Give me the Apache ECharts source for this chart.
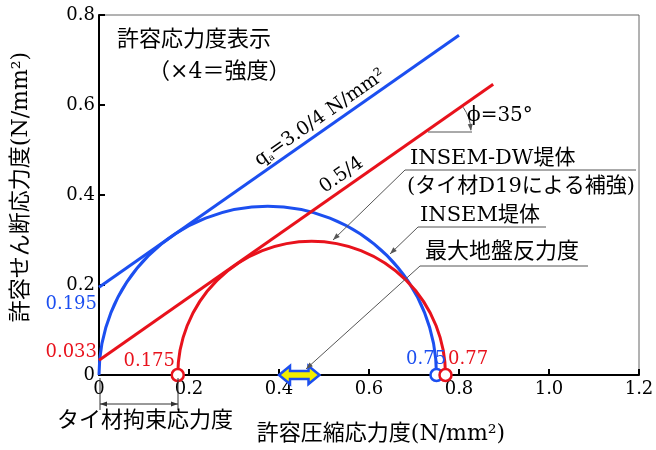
<!DOCTYPE html>
<html><head><meta charset="utf-8">
<script src="https://cdn.jsdelivr.net/npm/echarts@6/dist/echarts.min.js"></script>
<style>html,body{margin:0;padding:0;background:#fff}#c{width:656px;height:450px}</style>
</head><body><div id="c"></div>
<script>
// ---- data ----
const xTicks = [0, 0.2, 0.4, 0.6, 0.8, 1.0, 1.2];
const yTicks = [0, 0.2, 0.4, 0.6, 0.8];
const blueCircle = [0, 0.75, 0];      // sigma3, sigma1 (INSEM-DW)
const redCircle = [0.175, 0.77, 0];   // sigma3, sigma1 (INSEM)
const blueLine = [[0, 0.195], [0.80, 0.755]];
const redLine = [[0, 0.033], [0.876, 0.646]];
const blueMarks = [[0.75, 0]];
const redMarks = [[0.175, 0], [0.77, 0]];
const arrowRange = [0.40, 0.49, 0];

const FONT = '"DejaVu Serif", "Noto Sans CJK JP"';
const BLUE = '#1c4ff0', RED = '#e8121c', GREY = '#555';

const chart = echarts.init(document.getElementById('c'), null, {renderer: 'canvas'});

function mohr(color, circle) {
  return {
    type: 'custom', data: [circle], clip: false, z: 3,
    encode: {x: [0, 1], y: 2},
    renderItem(params, api) {
      const s3 = api.value(0), s1 = api.value(1);
      const c = api.coord([(s3 + s1) / 2, 0]);
      const r = api.size([(s1 - s3) / 2, 0])[0];
      return {type: 'arc', shape: {cx: c[0], cy: c[1], r: r, startAngle: Math.PI, endAngle: 2 * Math.PI, clockwise: true},
        style: {stroke: color, lineWidth: 3, fill: null}};
    }
  };
}

const fmt = v => (v === 0 ? '0' : v.toFixed(1));

chart.setOption({
  animation: false,
  grid: {left: 99, right: 17, top: 15, bottom: 75, show: true, borderColor: '#666', borderWidth: 1, containLabel: false, outerBoundsMode: 'none'},
  xAxis: {type: 'value', min: 0, max: 1.2, interval: 0.2,
    axisLine: {lineStyle: {color: '#000', width: 2}},
    axisTick: {inside: true, length: 6, lineStyle: {color: '#000', width: 2}},
    axisLabel: {formatter: v => fmt(v), color: '#000', fontFamily: FONT, fontSize: 18, margin: 5},
    splitLine: {show: false}},
  yAxis: {type: 'value', min: 0, max: 0.8, interval: 0.2,
    axisLine: {lineStyle: {color: '#000', width: 2}},
    axisTick: {inside: true, length: 6, lineStyle: {color: '#000', width: 2}},
    axisLabel: {formatter: v => fmt(v), color: '#000', fontFamily: FONT, fontSize: 18, margin: 4},
    splitLine: {show: false}},
  series: [
    mohr(BLUE, blueCircle),
    mohr(RED, redCircle),
    {type: 'line', data: blueLine, symbol: 'none', lineStyle: {color: BLUE, width: 3}, z: 3},
    {type: 'line', data: redLine, symbol: 'none', lineStyle: {color: RED, width: 3}, z: 3},
    {type: 'custom', data: [arrowRange], clip: false, z: 5, encode: {x: [0, 1], y: 2},
      renderItem(params, api) {
        const a = api.coord([api.value(0), 0]), b = api.coord([api.value(1), 0]);
        const y = a[1], hl = 11, hh = 9, sh = 4;
        return {type: 'polygon', shape: {points: [[a[0], y], [a[0] + hl, y - hh], [a[0] + hl, y - sh], [b[0] - hl, y - sh], [b[0] - hl, y - hh], [b[0], y], [b[0] - hl, y + hh], [b[0] - hl, y + sh], [a[0] + hl, y + sh], [a[0] + hl, y + hh]]},
          style: {fill: '#f4ee00', stroke: BLUE, lineWidth: 2.5}};
      }},
    {type: 'scatter', data: blueMarks, symbol: 'circle', symbolSize: 12, z: 6,
      itemStyle: {color: '#fff', borderColor: BLUE, borderWidth: 2.5, opacity: 1}},
    {type: 'scatter', data: redMarks, symbol: 'circle', symbolSize: 12, z: 6,
      itemStyle: {color: '#fff', borderColor: RED, borderWidth: 2.5, opacity: 1}}
  ]
});

function txt(text, x, y, size, color, align, extra) {
  return Object.assign({type: 'text', x: x, y: y, z: 10,
    style: {text: text, font: size + 'px ' + FONT, fill: color || '#000', align: align || 'left', verticalAlign: 'middle'}}, extra || {});
}
function line(x1, y1, x2, y2, color, w) {
  return {type: 'line', z: 9, shape: {x1: x1, y1: y1, x2: x2, y2: y2}, style: {stroke: color || GREY, lineWidth: w || 1}};
}
function head(x, y, fromX, fromY, color) {
  const ang = Math.atan2(y - fromY, x - fromX), L = 7, W = 2.5;
  const bx = x - L * Math.cos(ang), by = y - L * Math.sin(ang);
  const nx = -Math.sin(ang) * W, ny = Math.cos(ang) * W;
  return {type: 'polygon', z: 9, shape: {points: [[x, y], [bx + nx, by + ny], [bx - nx, by - ny]]}, style: {fill: color || GREY}};
}

const deg35 = 35 * Math.PI / 180;
const g = [
  txt('許容応力度表示', 117, 40, 22, '#000'),
  txt('（×4＝強度）', 148, 72, 22, '#000'),
  {type: 'text', x: 262, y: 170, rotation: deg35, z: 10,
    style: {text: '{n|q}{s|a}{n|=3.0/4 N/mm²}', verticalAlign: 'bottom', align: 'left',
      rich: {n: {font: '19px ' + FONT, fill: '#000'}, s: {font: '9px ' + FONT, fill: '#000', padding: [10, 0, 0, 0]}}}},
  {type: 'text', x: 327, y: 197, rotation: deg35, z: 10,
    style: {text: '0.5/4', font: '19px ' + FONT, fill: '#000', verticalAlign: 'bottom', align: 'left'}},
  // phi angle
  line(428, 132, 472, 132, GREY, 1),
  {type: 'arc', z: 9, shape: {cx: 428, cy: 132, r: 43, startAngle: -deg35, endAngle: -0.05, clockwise: true}, style: {stroke: GREY, lineWidth: 1, fill: null}},
  head(471, 131, 470, 122),
  txt('ϕ=35°', 467, 116, 20, '#000'),
  // INSEM-DW
  txt('INSEM-DW堤体', 410, 159, 21, '#000'),
  txt('(タイ材D19による補強)', 407, 187, 21, '#000'),
  line(405, 170, 636, 170),
  line(405, 170, 333, 240), head(333, 240, 405, 170),
  // INSEM
  txt('INSEM堤体', 420, 216, 21, '#000'),
  line(418, 227, 546, 227),
  line(418, 227, 390, 254), head(390, 254, 418, 227),
  // max ground reaction
  txt('最大地盤反力度', 425, 252, 22, '#000'),
  line(420, 266, 588, 266),
  line(420, 266, 306, 369), head(306, 369, 420, 266),
  // value labels
  txt('0.195', 97, 304, 18, BLUE, 'right'),
  txt('0.033', 97, 352, 18, RED, 'right'),
  txt('0.175', 175, 361, 18, RED, 'right'),
  txt('0.75', 406, 359, 18, BLUE, 'left'),
  txt('0.77', 448, 359, 18, RED, 'left'),
  // tie constraint dimension
  line(100, 378, 100, 410, '#333', 1),
  line(178, 378, 178, 410, '#333', 1),
  line(100, 404, 178, 404, '#333', 1),
  head(100, 404, 110, 404, '#333'), head(178, 404, 168, 404, '#333'),
  txt('タイ材拘束応力度', 57, 421, 22, '#000'),
  // axis titles
  txt('許容圧縮応力度(N/mm²)', 381, 434, 22, '#000', 'center'),
  {type: 'text', x: 21, y: 187, rotation: Math.PI / 2, z: 10,
    style: {text: '許容せん断応力度(N/mm²)', font: '22px ' + FONT, fill: '#000', align: 'center', verticalAlign: 'middle'}}
];
chart.setOption({graphic: g});
</script>
</body></html>
